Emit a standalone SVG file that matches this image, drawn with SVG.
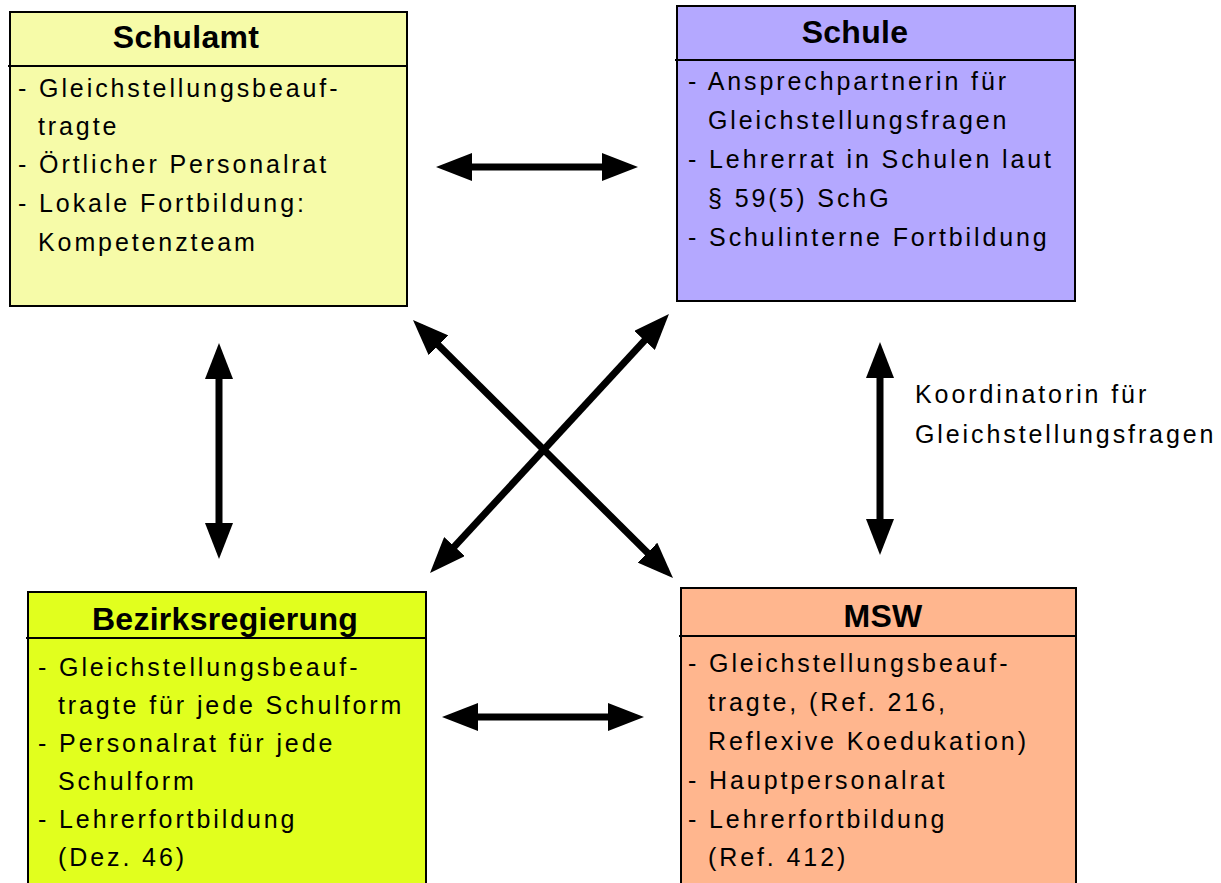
<svg xmlns="http://www.w3.org/2000/svg" width="1221" height="883" viewBox="0 0 1221 883">
<style>
.box{stroke:#000;stroke-width:2}
.div{stroke:#000;stroke-width:2}
.title{font-family:"Liberation Sans",Arial,sans-serif;font-weight:bold;font-size:32px;letter-spacing:0.3px;text-anchor:middle;fill:#000}
.t{font-family:"Liberation Sans",Arial,sans-serif;font-size:25px;letter-spacing:2.9px;fill:#000}
.arr{stroke:#000;stroke-width:7;fill:none;marker-start:url(#ah);marker-end:url(#ah)}
</style>
<defs>
<marker id="ah" viewBox="0 0 36 28" refX="26" refY="14" markerWidth="36" markerHeight="28" markerUnits="userSpaceOnUse" orient="auto-start-reverse">
<path d="M0,0 L36,14 L0,28 z" fill="#000"/>
</marker>
</defs>
<rect width="1221" height="883" fill="#fff"/>
<g id="schulamt">
<rect class="box" x="10" y="12" width="397" height="294" fill="#F6FBA8"/>
<line class="div" x1="8" y1="66" x2="407" y2="66"/>
<text class="title" x="186" y="48">Schulamt</text>
<text class="t" x="18" y="97">- Gleichstellungsbeauf-</text>
<text class="t" x="38" y="135">tragte</text>
<text class="t" x="18" y="173">- Örtlicher Personalrat</text>
<text class="t" x="18" y="212">- Lokale Fortbildung:</text>
<text class="t" x="38" y="251">Kompetenzteam</text>
</g>
<g id="schule">
<rect class="box" x="677" y="6" width="398" height="295" fill="#B4A8FF"/>
<line class="div" x1="675" y1="60" x2="1075" y2="60"/>
<text class="title" x="855" y="43">Schule</text>
<text class="t" x="688" y="90">- Ansprechpartnerin für</text>
<text class="t" x="708" y="129">Gleichstellungsfragen</text>
<text class="t" x="688" y="168">- Lehrerrat in Schulen laut</text>
<text class="t" x="708" y="207">§ 59(5) SchG</text>
<text class="t" x="688" y="246">- Schulinterne Fortbildung</text>
</g>
<g id="bezirksregierung">
<rect class="box" x="28" y="592" width="398" height="300" fill="#E1FF1E"/>
<line class="div" x1="26" y1="638" x2="426" y2="638"/>
<text class="title" x="225" y="630">Bezirksregierung</text>
<text class="t" x="38" y="676">- Gleichstellungsbeauf-</text>
<text class="t" x="58" y="714">tragte für jede Schulform</text>
<text class="t" x="38" y="752">- Personalrat für jede</text>
<text class="t" x="58" y="790">Schulform</text>
<text class="t" x="38" y="828">- Lehrerfortbildung</text>
<text class="t" x="58" y="866">(Dez. 46)</text>
</g>
<g id="msw">
<rect class="box" x="681" y="588" width="395" height="304" fill="#FFB68E"/>
<line class="div" x1="679" y1="636" x2="1076" y2="636"/>
<text class="title" x="883" y="627">MSW</text>
<text class="t" x="688" y="672">- Gleichstellungsbeauf-</text>
<text class="t" x="708" y="711">tragte, (Ref. 216,</text>
<text class="t" x="708" y="750">Reflexive Koedukation)</text>
<text class="t" x="688" y="789">- Hauptpersonalrat</text>
<text class="t" x="688" y="828">- Lehrerfortbildung</text>
<text class="t" x="708" y="866">(Ref. 412)</text>
</g>
<g id="label">
<text class="t" x="915" y="403">Koordinatorin für</text>
<text class="t" x="915" y="443">Gleichstellungsfragen</text>
</g>
<g id="connectors">
<line class="arr" x1="446" y1="167" x2="628" y2="167"/>
<line class="arr" x1="452" y1="717" x2="634" y2="717"/>
<line class="arr" x1="219" y1="353" x2="219" y2="549"/>
<line class="arr" x1="880" y1="352" x2="880" y2="545"/>
<line class="arr" x1="420.1" y1="327.05" x2="665.9" y2="570.95"/>
<line class="arr" x1="662.2" y1="321.35" x2="436.8" y2="565.65"/>
</g>
</svg>
